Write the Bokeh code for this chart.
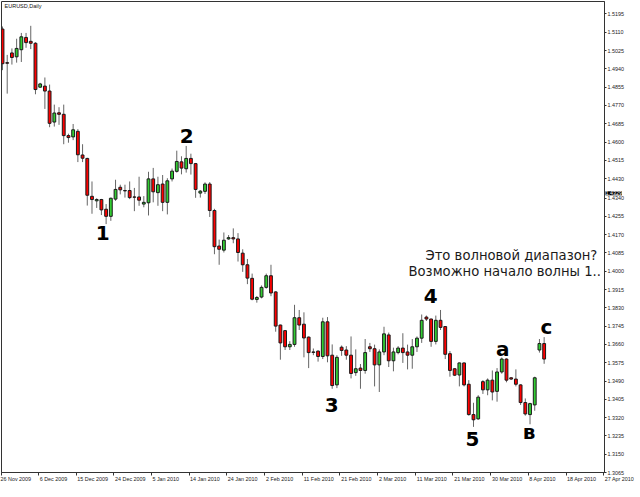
from bokeh.plotting import figure
from bokeh.models import Range1d, FixedTicker, CustomJSTickFormatter, NumeralTickFormatter, ColumnDataSource, Label
from bokeh.embed import file_html
from bokeh.resources import INLINE
from bokeh.core.properties import value

# ---- data (EURUSD daily, bar index 0 = 26 Nov 2009) ----
opens = [1.5125, 1.4969, 1.5014, 1.4996, 1.5029, 1.5086, 1.5068, 1.5059, 1.4855, 1.4860,
         1.4837, 1.4693, 1.4736, 1.4729, 1.4630, 1.4624, 1.4650, 1.4540, 1.4524, 1.4348,
         1.4327, 1.4333, 1.4288, 1.4255, 1.4335, 1.4390, 1.4375, 1.4375, 1.4345, 1.4345,
         1.4312, 1.4318, 1.4429, 1.4365, 1.4405, 1.4320, 1.4429, 1.4464, 1.4508, 1.4476,
         1.4524, 1.4500, 1.4363, 1.4371, 1.4405, 1.4282, 1.4117, 1.4098, 1.4150, 1.4156,
         1.4150, 1.4084, 1.4030, 1.3967, 1.3869, 1.3880, 1.3925, 1.3979, 1.3904, 1.3750,
         1.3724, 1.3649, 1.3660, 1.3784, 1.3754, 1.3694, 1.3625, 1.3629, 1.3604, 1.3765,
         1.3610, 1.3472, 1.3647, 1.3634, 1.3610, 1.3529, 1.3550, 1.3539, 1.3649, 1.3640,
         1.3565, 1.3625, 1.3704, 1.3584, 1.3622, 1.3643, 1.3625, 1.3610, 1.3649, 1.3689,
         1.3787, 1.3778, 1.3674, 1.3772, 1.3743, 1.3617, 1.3547, 1.3518, 1.3574, 1.3475,
         1.3334, 1.3314, 1.3487, 1.3449, 1.3494, 1.3442, 1.3532, 1.3592, 1.3505, 1.3499,
         1.3472, 1.3390, 1.3334, 1.3379, 1.3634, 1.3664]
highs = [1.5137, 1.5005, 1.5035, 1.5080, 1.5107, 1.5107, 1.5140, 1.5064, 1.4875, 1.4900,
         1.4867, 1.4774, 1.4762, 1.4774, 1.4639, 1.4684, 1.4660, 1.4590, 1.4527, 1.4417,
         1.4339, 1.4336, 1.4312, 1.4342, 1.4425, 1.4402, 1.4402, 1.4417, 1.4387, 1.4439,
         1.4349, 1.4462, 1.4480, 1.4439, 1.4447, 1.4432, 1.4477, 1.4560, 1.4534, 1.4582,
         1.4546, 1.4503, 1.4377, 1.4413, 1.4414, 1.4290, 1.4147, 1.4180, 1.4168, 1.4199,
         1.4177, 1.4102, 1.4057, 1.3989, 1.3885, 1.3934, 1.3989, 1.4030, 1.3907, 1.3752,
         1.3727, 1.3675, 1.3844, 1.3820, 1.3809, 1.3697, 1.3641, 1.3632, 1.3784, 1.3787,
         1.3660, 1.3610, 1.3655, 1.3652, 1.3697, 1.3637, 1.3569, 1.3685, 1.3667, 1.3659,
         1.3637, 1.3742, 1.3715, 1.3645, 1.3652, 1.3712, 1.3659, 1.3685, 1.3697, 1.3799,
         1.3794, 1.3780, 1.3794, 1.3820, 1.3745, 1.3629, 1.3549, 1.3576, 1.3576, 1.3494,
         1.3389, 1.3424, 1.3494, 1.3502, 1.3539, 1.3550, 1.3599, 1.3595, 1.3508, 1.3544,
         1.3475, 1.3409, 1.3389, 1.3510, 1.3685, 1.3694]
lows = [1.4934, 1.4825, 1.4960, 1.4969, 1.4972, 1.5038, 1.5032, 1.4822, 1.4852, 1.4754,
        1.4669, 1.4672, 1.4680, 1.4590, 1.4597, 1.4609, 1.4507, 1.4507, 1.4305, 1.4267,
        1.4294, 1.4261, 1.4219, 1.4234, 1.4327, 1.4357, 1.4342, 1.4335, 1.4279, 1.4304,
        1.4297, 1.4259, 1.4320, 1.4304, 1.4279, 1.4264, 1.4417, 1.4458, 1.4450, 1.4458,
        1.4449, 1.4341, 1.4342, 1.4359, 1.4252, 1.4079, 1.4030, 1.4087, 1.4146, 1.4130,
        1.4045, 1.3997, 1.3940, 1.3865, 1.3854, 1.3874, 1.3919, 1.3884, 1.3719, 1.3589,
        1.3634, 1.3634, 1.3649, 1.3727, 1.3600, 1.3550, 1.3610, 1.3580, 1.3592, 1.3577,
        1.3454, 1.3457, 1.3607, 1.3589, 1.3502, 1.3514, 1.3454, 1.3524, 1.3625, 1.3465,
        1.3439, 1.3610, 1.3555, 1.3535, 1.3614, 1.3574, 1.3544, 1.3547, 1.3625, 1.3667,
        1.3769, 1.3649, 1.3660, 1.3727, 1.3592, 1.3510, 1.3513, 1.3465, 1.3465, 1.3329,
        1.3277, 1.3310, 1.3430, 1.3424, 1.3400, 1.3394, 1.3524, 1.3484, 1.3495, 1.3465,
        1.3379, 1.3329, 1.3289, 1.3352, 1.3622, 1.3570]
closes = [1.4964, 1.4966, 1.4993, 1.5035, 1.5089, 1.5062, 1.5059, 1.4844, 1.4870, 1.4837,
          1.4687, 1.4735, 1.4729, 1.4630, 1.4621, 1.4657, 1.4541, 1.4525, 1.4353, 1.4333,
          1.4333, 1.4285, 1.4255, 1.4339, 1.4380, 1.4378, 1.4373, 1.4342, 1.4344, 1.4330,
          1.4320, 1.4429, 1.4369, 1.4402, 1.4320, 1.4420, 1.4465, 1.4510, 1.4479, 1.4524,
          1.4500, 1.4380, 1.4372, 1.4405, 1.4282, 1.4114, 1.4102, 1.4144, 1.4156, 1.4150,
          1.4087, 1.4030, 1.3968, 1.3870, 1.3878, 1.3925, 1.3979, 1.3899, 1.3745, 1.3667,
          1.3649, 1.3660, 1.3784, 1.3750, 1.3690, 1.3622, 1.3623, 1.3604, 1.3765, 1.3607,
          1.3469, 1.3600, 1.3632, 1.3610, 1.3525, 1.3547, 1.3539, 1.3622, 1.3640, 1.3565,
          1.3625, 1.3709, 1.3584, 1.3625, 1.3643, 1.3622, 1.3610, 1.3649, 1.3689, 1.3772,
          1.3778, 1.3674, 1.3772, 1.3739, 1.3614, 1.3539, 1.3517, 1.3574, 1.3472, 1.3334,
          1.3310, 1.3415, 1.3449, 1.3494, 1.3439, 1.3532, 1.3592, 1.3494, 1.3499, 1.3475,
          1.3390, 1.3337, 1.3385, 1.3505, 1.3664, 1.3592]

date_labels = ["26 Nov 2009", "6 Dec 2009", "15 Dec 2009", "24 Dec 2009", "5 Jan 2010",
               "14 Jan 2010", "24 Jan 2010", "2 Feb 2010", "11 Feb 2010", "21 Feb 2010",
               "2 Mar 2010", "11 Mar 2010", "21 Mar 2010", "30 Mar 2010", "8 Apr 2010",
               "18 Apr 2010", "27 Apr 2010"]
bars_per_label = 8

price_labels = ["1.5195", "1.5110", "1.5025", "1.4940", "1.4855", "1.4770", "1.4685",
                "1.4600", "1.4515", "1.4430", "1.4340", "1.4255", "1.4170", "1.4085",
                "1.4000", "1.3915", "1.3830", "1.3745", "1.3660", "1.3575", "1.3490",
                "1.3405", "1.3320", "1.3235", "1.3150", "1.3065"]
current_price = "1.4329"

wave_text = ["1", "2", "3", "4", "5", "а", "в", "с"]
wave_bar = [21.3, 39.1, 69.9, 90.9, 99.8, 106.2, 111.8, 115.5]
wave_price = [1.4177, 1.4629, 1.3380, 1.3885, 1.3221, 1.3637, 1.3255, 1.3741]

note_lines = ["Это волновой диапазон?", "Возможно начало волны 1.."]
note_bar = [89.8, 86.2]
note_price = [1.4073, 1.4001]

# ---- layout helpers ----
FRAME_W, FRAME_H = 603, 471
PX_PER_BAR = 4.71
X0 = -1.0 / PX_PER_BAR
X1 = X0 + FRAME_W / PX_PER_BAR
Y0, Y1 = 1.3065, 1.5253
AXIS_FONT_PX = 5.4
# Arial-like advance widths (em): pad date labels so they sit to the right of their tick
_w = {" ": .278, ".": .278, "N": .722, "o": .556, "v": .5, "D": .722, "e": .556, "c": .5,
      "J": .5, "a": .556, "n": .556, "F": .611, "b": .556, "M": .833, "r": .333,
      "A": .667, "p": .556}
def text_w(s):
    return sum(_w.get(ch, .556) for ch in s) * AXIS_FONT_PX
nbsp_w = 0.278 * AXIS_FONT_PX
tick_pos = [max(k * bars_per_label - 0.36, X0 + 0.01) for k in range(len(date_labels))]
pads = [0] + [int(round((text_w(s) + 2.5) / nbsp_w)) for s in date_labels[1:]]

# ---- build ----
idx = list(range(len(opens)))
up = [c >= o for o, c in zip(opens, closes)]
src = ColumnDataSource(dict(
    x=idx, o=opens, h=highs, l=lows, c=closes,
    top=[max(o, c) for o, c in zip(opens, closes)],
    bottom=[min(o, c) for o, c in zip(opens, closes)],
    color=["#32cd32" if u else "#ff0000" for u in up],
))

p = figure(frame_width=FRAME_W, frame_height=FRAME_H, output_backend="svg", toolbar_location=None,
           x_range=Range1d(X0, X1), y_range=Range1d(Y0, Y1),
           y_axis_location="right", min_border_left=1, min_border_top=1,
           min_border_right=0, min_border_bottom=0)
p.grid.visible = False
p.outline_line_color = "#333333"
p.background_fill_color = "white"

p.segment(x0="x", y0="h", x1="x", y1="l", source=src, line_color="#666666", line_width=1)
p.vbar(x="x", top="top", bottom="bottom", width=0.6, source=src,
       fill_color="color", line_color="#1a1a1a", line_width=1)

# axes
xax = p.xaxis[0]
xax.ticker = FixedTicker(ticks=tick_pos)
xax.formatter = CustomJSTickFormatter(args=dict(labels=date_labels, pads=pads),
                                      code="return '\\u00a0'.repeat(pads[index]) + labels[index];")
xax.major_label_standoff = 0
xax.major_tick_out = 3

yax = p.yaxis[0]
yax.ticker = FixedTicker(ticks=[float(s) for s in price_labels])
yax.formatter = NumeralTickFormatter(format="0.0000")
yax.major_label_standoff = 1
yax.major_tick_out = 2
for ax in (xax, yax):
    ax.major_label_text_font = "Liberation Sans"
    ax.major_label_text_font_size = f"{AXIS_FONT_PX}px"
    ax.major_label_text_color = "#222222"
    ax.axis_line_color = "#333333"
    ax.major_tick_line_color = "#333333"
    ax.major_tick_in = 0
    ax.minor_tick_line_color = None

# title
p.text(x=[0.43], y=[1.5232], text=["EURUSD,Daily"], text_font=value("Liberation Sans"),
       text_font_size="5.5px", text_align="left", text_baseline="middle",
       text_color="#111111")

# wave labels
p.text(x=wave_bar, y=wave_price, text=wave_text, text_font=value("DejaVu Sans"),
       text_font_style="bold", text_font_size="20px", text_align="center",
       text_baseline="middle", text_color="#000000")

# note
p.text(x=note_bar, y=note_price, text=note_lines, text_font=value("DejaVu Sans"),
       text_font_size="13.2px", text_align="left", text_baseline="middle", text_color="#1a1a1a")

# current price marker on the price scale (attempt: placed in the right side panel)
p.add_layout(Label(x=X1, y=1.4362, x_offset=1, text=current_price,
                   text_font="Liberation Sans", text_font_size=f"{AXIS_FONT_PX}px",
                   text_color="white", text_baseline="middle", background_fill_color="black"),
             "right")

open("out.html", "w").write(file_html(p, INLINE))
